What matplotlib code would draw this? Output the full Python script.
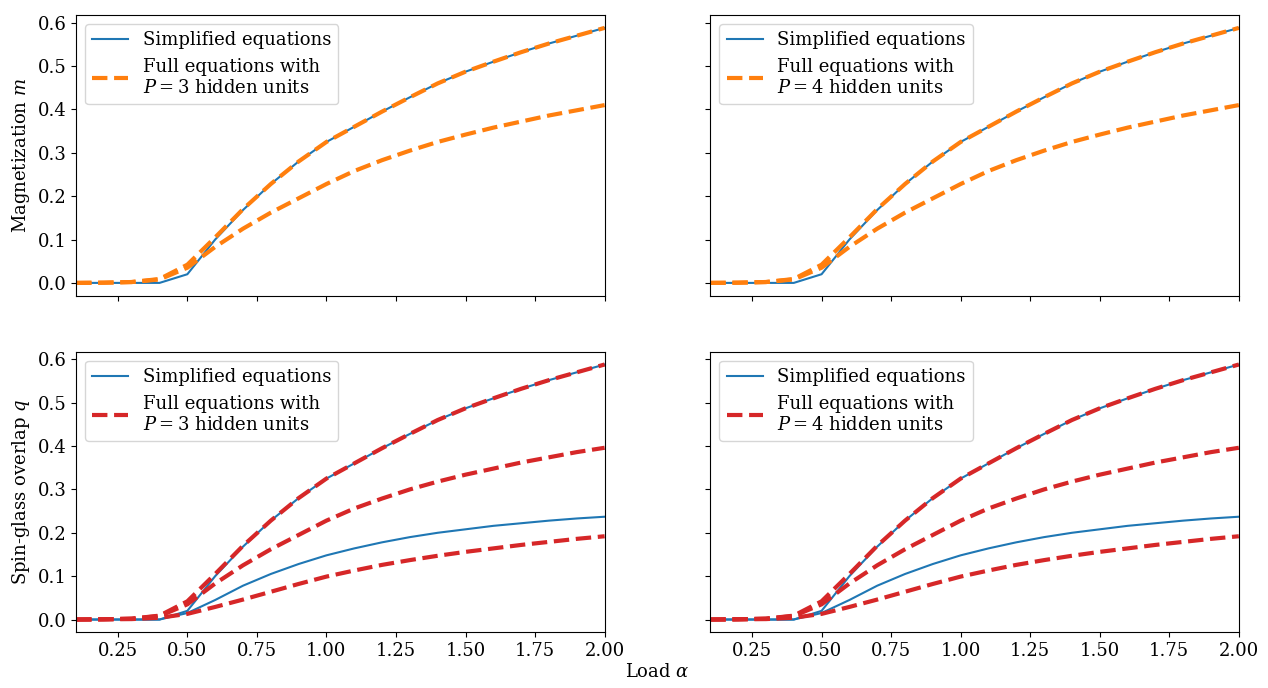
import matplotlib
matplotlib.use("Agg")
import matplotlib.pyplot as plt

plt.rcParams['font.family'] = ['DejaVu Serif']
plt.rcParams['mathtext.fontset'] = 'dejavuserif'
plt.rcParams['font.size'] = 13

# load alpha
alpha = [0.1, 0.2, 0.3, 0.4, 0.5, 0.6, 0.7, 0.8, 0.9, 1.0,
         1.1, 1.2, 1.3, 1.4, 1.5, 1.6, 1.7, 1.8, 1.9, 2.0]

# simplified equations
m_simple = [0, 0, 0, 0, 0.02, 0.10, 0.168, 0.228, 0.28, 0.325,
            0.36, 0.395, 0.428, 0.46, 0.487, 0.51, 0.532, 0.552, 0.57, 0.588]
q_simple = m_simple
q_simple2 = [0, 0, 0, 0, 0.015, 0.045, 0.078, 0.105, 0.128, 0.148,
             0.164, 0.178, 0.19, 0.2, 0.208, 0.216, 0.222, 0.228, 0.233, 0.237]

# full equations
m_full_a = [0, 0.0005, 0.002, 0.009, 0.042, 0.105, 0.17, 0.228, 0.28, 0.325,
            0.36, 0.395, 0.428, 0.46, 0.487, 0.51, 0.532, 0.552, 0.57, 0.588]
m_full_b = [0, 0.0005, 0.002, 0.008, 0.035, 0.083, 0.125, 0.162, 0.195, 0.228,
            0.258, 0.283, 0.305, 0.325, 0.342, 0.358, 0.372, 0.386, 0.398, 0.41]
q_full_a = m_full_a
q_full_b = [0, 0.0005, 0.002, 0.008, 0.035, 0.083, 0.125, 0.162, 0.195, 0.228,
            0.256, 0.279, 0.3, 0.318, 0.334, 0.348, 0.362, 0.374, 0.386, 0.396]
q_full_c = [0, 0.0005, 0.001, 0.004, 0.013, 0.029, 0.046, 0.064, 0.082, 0.099,
            0.113, 0.126, 0.137, 0.147, 0.156, 0.164, 0.172, 0.179, 0.186, 0.192]

hidden_units = [3, 4]

fig, axes = plt.subplots(2, 2, figsize=(12.68, 6.88), dpi=100, sharex=True, sharey=True)
fig.subplots_adjust(left=0.06, right=0.977, top=0.978, bottom=0.081, wspace=0.2, hspace=0.2)

for col, P in enumerate(hidden_units):
    full_label = "Full equations with\n$P = %d$ hidden units" % P

    ax = axes[0, col]
    ax.plot(alpha, m_simple, color="C0", lw=1.5, label="Simplified equations")
    ax.plot(alpha, m_full_a, "--", color="C1", lw=3, label=full_label)
    ax.plot(alpha, m_full_b, "--", color="C1", lw=3)
    ax.legend(loc="upper left")

    ax = axes[1, col]
    ax.plot(alpha, q_simple, color="C0", lw=1.5, label="Simplified equations")
    ax.plot(alpha, q_simple2, color="C0", lw=1.5)
    ax.plot(alpha, q_full_a, "--", color="C3", lw=3, label=full_label)
    ax.plot(alpha, q_full_b, "--", color="C3", lw=3)
    ax.plot(alpha, q_full_c, "--", color="C3", lw=3)
    ax.legend(loc="upper left")

axes[0, 0].set_xlim(0.1, 2.0)
axes[0, 0].set_ylabel("Magnetization $m$")
axes[1, 0].set_ylabel("Spin-glass overlap $q$")
fig.text((0.06 + 0.977) / 2, 0.01, r"Load $\alpha$", ha="center", va="bottom")

fig.savefig("out.png")
